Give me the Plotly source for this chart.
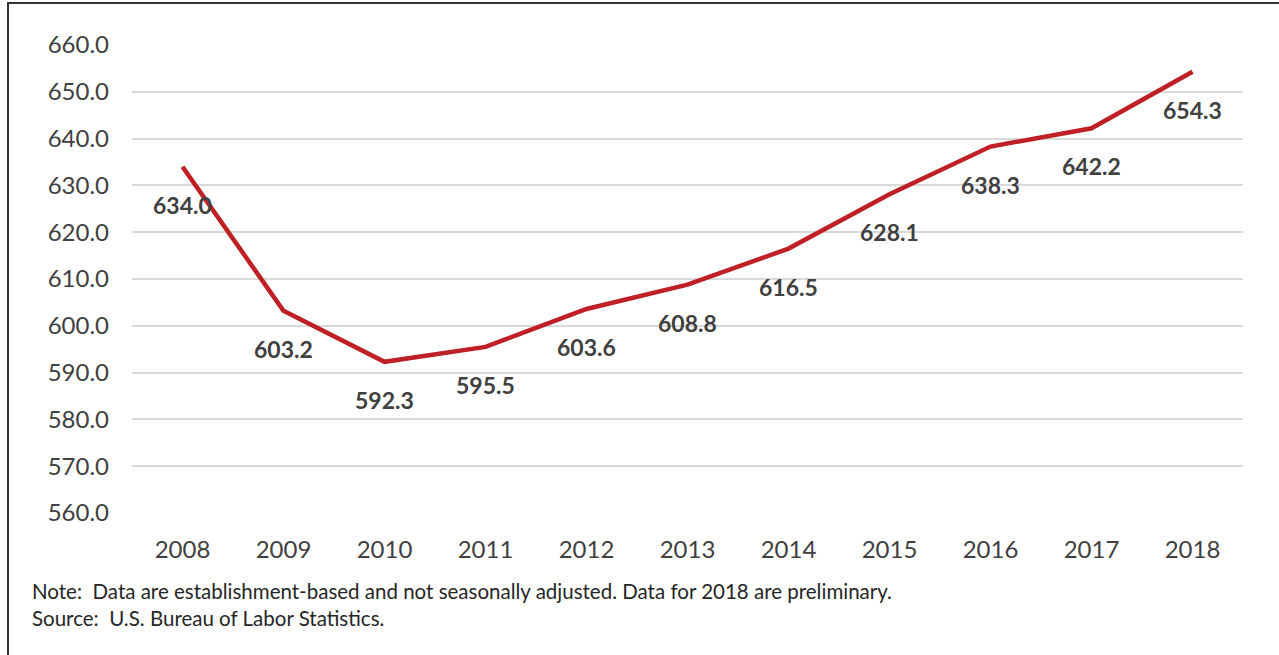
import plotly.graph_objects as go

years = ["2008", "2009", "2010", "2011", "2012", "2013", "2014", "2015", "2016", "2017", "2018"]
values = [634.0, 603.2, 592.3, 595.5, 603.6, 608.8, 616.5, 628.1, 638.3, 642.2, 654.3]
y_ticks = [560, 570, 580, 590, 600, 610, 620, 630, 640, 650, 660]
note_lines = [
    "Note:  Data are establishment-based and not seasonally adjusted. Data for 2018 are preliminary.",
    "Source:  U.S. Bureau of Labor Statistics.",
]

W, H = 1279, 655
ML, MR, MT, MB = 132, 36, 45, 142
PW, PH = W - ML - MR, H - MT - MB

def px_x(p):
    return (p - ML) / PW

def px_y(p):
    return (H - MB - p) / PH

FONT = "Lato"
TXT = "#404040"

fig = go.Figure()
fig.add_trace(go.Scatter(
    x=years, y=values, mode="lines",
    line=dict(color="#BF2026", width=4.5),
    hoverinfo="skip", showlegend=False,
))

for i, v in enumerate(values):
    fig.add_annotation(
        x=i, y=v, text=f"{v:.1f}", showarrow=False,
        xanchor="center", yanchor="middle", yshift=-38,
        font=dict(family=FONT, size=23, color=TXT, weight="bold"),
    )

for i, line in enumerate(note_lines):
    fig.add_annotation(
        x=px_x(30), y=px_y(591 + 27 * i), xref="paper", yref="paper",
        text=line, showarrow=False, xanchor="left", yanchor="middle",
        font=dict(family=FONT, size=20.5, color="#262626"),
    )

fig.add_shape(
    type="rect", xref="paper", yref="paper",
    x0=px_x(8), x1=px_x(1300), y0=px_y(680), y1=px_y(3),
    line=dict(color="#333333", width=2), fillcolor="rgba(0,0,0,0)",
)

fig.update_layout(
    width=W, height=H,
    margin=dict(l=ML, r=MR, t=MT, b=MB),
    paper_bgcolor="white", plot_bgcolor="white",
    font=dict(family=FONT, color=TXT),
    xaxis=dict(
        type="category", range=[-0.5, 10.5], showgrid=False, zeroline=False,
        showline=False, ticks="", tickfont=dict(size=24, color=TXT),
        ticklabelstandoff=20,
    ),
    yaxis=dict(
        range=[560, 660], tickvals=y_ticks, ticktext=[f"{t:.1f}" for t in y_ticks],
        showgrid=True, gridcolor="#D9D9D9", gridwidth=1.5, zeroline=False,
        showline=False, ticks="", tickfont=dict(size=24, color=TXT),
        ticklabelstandoff=22,
    ),
)

fig.write_html(
    "out.html",
    config={"displayModeBar": False},
    post_script="document.body.style.margin='0';",
)
